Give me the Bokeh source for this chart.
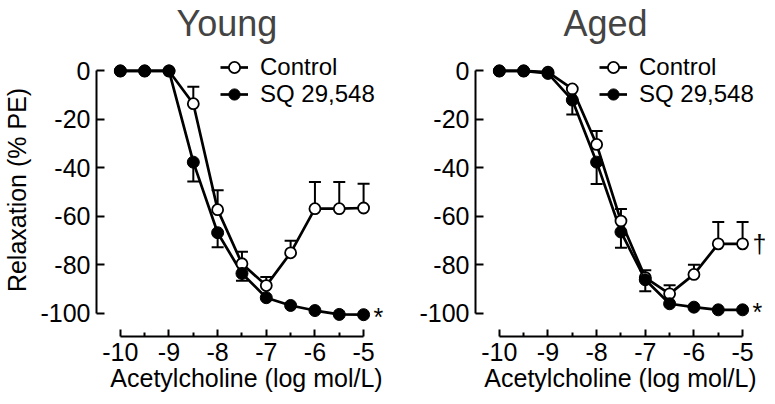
from bokeh.plotting import figure
from bokeh.models import Range1d, FixedTicker, Whisker, ColumnDataSource, TeeHead, Legend, LegendItem, Label
from bokeh.layouts import row
from bokeh.embed import file_html
from bokeh.resources import INLINE
import numpy as np

# ---------------- data ----------------
conc = [-10, -9.5, -9, -8.5, -8, -7.5, -7, -6.5, -6, -5.5, -5]

young_ctrl = [0, 0, 0, -13.5, -57.2, -79.5, -88.5, -75.0, -56.8, -56.8, -56.5]
young_ctrl_err = [0, 0, 0, 7, 8, 5, 3.5, 5, 11, 11, 10]
young_sq = [0, 0, 0, -37.6, -66.7, -83.5, -93.5, -96.7, -98.8, -100.4, -100.5]
young_sq_err = [0, 0, 0, 8, 6, 3, 0, 0, 0, 0, 0]

aged_ctrl = [0, 0, -0.5, -7.4, -30.3, -61.9, -85.2, -91.9, -83.9, -71.3, -71.3]
aged_ctrl_err = [0, 0, 0, 0, 5.5, 5, 3, 3.5, 4, 9, 9]
aged_sq = [0, 0, -1.0, -12.0, -37.6, -66.4, -86.1, -96.0, -97.4, -98.5, -98.5]
aged_sq_err = [0, 0, 0, 6, 9, 6.5, 4.7, 0, 0, 0, 0]

x_ticks = [-10, -9, -8, -7, -6, -5]
x_minor = [-9.5, -8.5, -7.5, -6.5, -5.5]
x_labels = ["-10", "-9", "-8", "-7", "-6", "-5"]
y_ticks = [0, -20, -40, -60, -80, -100]
y_labels = ["0", "-20", "-40", "-60", "-80", "-100"]

series_names = ["Control", "SQ 29,548"]
titles = ["Young", "Aged"]
young_marks = ["", "*"]      # significance marks for Control, SQ
aged_marks = ["\u2020", "*"]
x_title = "Acetylcholine (log mol/L)"
y_title = "Relaxation (% PE)"

# ---------------- style ----------------
FONT = "Liberation Sans"
PX_PER_Y = 2.425
TITLE_PANEL = 35
FRAME_BOTTOM = 336 - 8
FH = FRAME_BOTTOM - TITLE_PANEL
Y_BOT = -109.5
Y_TOP = Y_BOT + FH / PX_PER_Y
X_START = -10.49


def make_panel(title, title_offset, ctrl, ctrl_err, sq, sq_err, marks, left_border, frame_w, show_ylabel):
    x_end = X_START + frame_w / 48.65
    p = figure(frame_width=frame_w, frame_height=FH,
               x_range=Range1d(X_START, x_end), y_range=Range1d(Y_BOT, Y_TOP),
               output_backend="svg", toolbar_location=None,
               min_border_left=left_border, min_border_right=0,
               min_border_top=0, min_border_bottom=0)
    p.outline_line_color = None
    p.xgrid.visible = False
    p.ygrid.visible = False
    p.background_fill_color = "white"

    p.title.text = title
    p.title.align = "left"
    p.title.offset = title_offset
    p.title.text_font = FONT
    p.title.text_font_size = "36px"
    p.title.text_font_style = "normal"
    p.title.standoff = 0

    xa = p.xaxis[0]
    xa.ticker = FixedTicker(ticks=x_ticks, minor_ticks=x_minor)
    xa.major_label_overrides = dict(zip(x_ticks, x_labels))
    xa.bounds = (x_ticks[0], x_ticks[-1])
    xa.major_tick_in = 7
    xa.major_tick_out = 0
    xa.minor_tick_in = 4
    xa.minor_tick_out = 0
    ya = p.yaxis[0]
    ya.ticker = FixedTicker(ticks=y_ticks)
    ya.major_label_overrides = dict(zip(y_ticks, y_labels))
    ya.bounds = (y_ticks[-1], y_ticks[0])
    ya.major_tick_in = 8
    ya.major_tick_out = 0
    for ax in (xa, ya):
        ax.axis_line_width = 2
        ax.axis_line_color = "black"
        ax.major_tick_line_width = 2
        ax.major_tick_line_color = "black"
        ax.minor_tick_line_width = 2
        ax.major_label_text_font = FONT
        ax.major_label_text_font_size = "25px"
        ax.major_label_text_color = "black"
        ax.axis_label_text_font = FONT
        ax.axis_label_text_font_size = "25px"
        ax.axis_label_text_font_style = "normal"
        ax.axis_label_text_color = "black"
    xa.minor_tick_line_color = "black"
    ya.minor_tick_line_color = None
    xa.major_label_standoff = 6
    xa.axis_label_standoff = 0
    ya.major_label_standoff = 6
    xa.axis_label = x_title
    if show_ylabel:
        ya.axis_label = y_title
        ya.axis_label_standoff = 6

    x = np.array(conc, dtype=float)
    c = np.array(ctrl, dtype=float)
    ce = np.array(ctrl_err, dtype=float)
    s = np.array(sq, dtype=float)
    se = np.array(sq_err, dtype=float)

    mc = ce > 0
    src_c = ColumnDataSource(dict(x=x[mc], lo=c[mc], hi=(c + ce)[mc]))
    p.add_layout(Whisker(source=src_c, base="x", lower="lo", upper="hi", dimension="height",
                         line_width=2, line_color="black",
                         upper_head=TeeHead(size=12, line_width=2, line_color="black"),
                         lower_head=None, level="underlay"))
    ms = se > 0
    src_s = ColumnDataSource(dict(x=x[ms], lo=(s - se)[ms], hi=s[ms]))
    p.add_layout(Whisker(source=src_s, base="x", lower="lo", upper="hi", dimension="height",
                         line_width=2, line_color="black",
                         lower_head=TeeHead(size=12, line_width=2, line_color="black"),
                         upper_head=None, level="underlay"))

    lc = p.line(x, c, line_width=2.7, line_color="black")
    ls = p.line(x, s, line_width=2.7, line_color="black")
    sc = p.scatter(x, c, size=11, fill_color="white", line_color="black", line_width=1.8)
    ss = p.scatter(x, s, size=12, fill_color="black", line_color="black", line_width=1.0)

    for name, rends, vy in ((series_names[0], [lc, sc], 255), (series_names[1], [ls, ss], 228)):
        lg = Legend(items=[LegendItem(label=name, renderers=rends)],
                    location=(124, vy), border_line_color=None, background_fill_alpha=0,
                    padding=0, spacing=0, margin=0, glyph_width=28, glyph_height=28,
                    label_standoff=12, label_height=22,
                    label_text_font=FONT, label_text_font_size="24px",
                    label_text_color="black")
        p.add_layout(lg)

    last = [c[-1], s[-1]]
    for m, yv in zip(marks, last):
        if m:
            p.add_layout(Label(x=x[-1], y=yv, text=m, x_offset=10,
                               y_offset=(-2 if m == "*" else 0),
                               text_font=FONT, text_font_size="25px",
                               text_align="left", text_baseline="middle", text_color="black"))
    return p


p1 = make_panel(titles[0], 80, young_ctrl, young_ctrl_err, young_sq, young_sq_err, young_marks,
                90, 300, True)
p2 = make_panel(titles[1], 88, aged_ctrl, aged_ctrl_err, aged_sq, aged_sq_err, aged_marks,
                79, 290, False)

layout = row(p1, p2)
open("out.html", "w").write(file_html(layout, INLINE))
